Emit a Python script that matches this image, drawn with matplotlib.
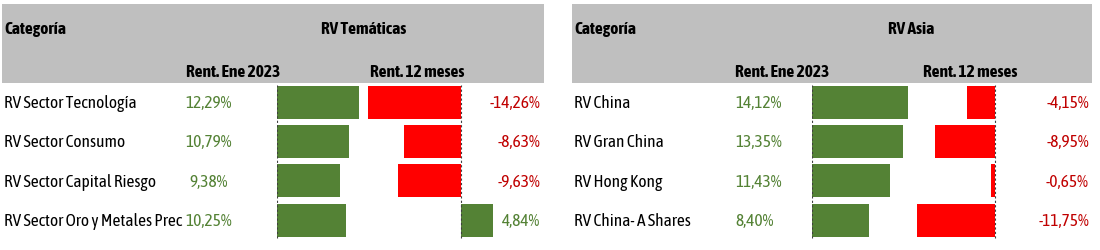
import matplotlib
matplotlib.use("Agg")
import matplotlib.pyplot as plt
from matplotlib.patches import Rectangle

# ---------------- data ----------------
left_title = "RV Temáticas"
left_categories = ["RV Sector Tecnología", "RV Sector Consumo",
                   "RV Sector Capital Riesgo", "RV Sector Oro y Metales Prec"]
left_ene2023 = [12.29, 10.79, 9.38, 10.25]
left_12m = [-14.26, -8.63, -9.63, 4.84]

right_title = "RV Asia"
right_categories = ["RV China", "RV Gran China", "RV Hong Kong", "RV China- A Shares"]
right_ene2023 = [14.12, 13.35, 11.43, 8.40]
right_12m = [-4.15, -8.95, -0.65, -11.75]

col_cat = "Categoría"
col_ene = "Rent. Ene 2023"
col_12m = "Rent. 12 meses"

# ---------------- style ----------------
GREEN = "#548235"
RED_BAR = "#FF0000"
RED_TXT = "#C00000"
GRAY = "#BFBFBF"
FONT = ["Asap Condensed", "Archivo Narrow", "DejaVu Sans"]
FS = 12.5

W, H = 1100, 250
fig = plt.figure(figsize=(W / 100, H / 100), dpi=100)

# background axes in pixel coordinates for layout / text
bg = fig.add_axes([0, 0, 1, 1])
bg.set_xlim(0, W)
bg.set_ylim(H, 0)
bg.axis("off")


def px_axes(x0, y0, x1, y1):
    return fig.add_axes([x0 / W, 1 - y1 / H, (x1 - x0) / W, (y1 - y0) / H])


def fmt(v):
    return f"{v:.2f}%".replace(".", ",")


ROW_TOP = 82.5
PITCH = 39.3


def panel(px0, px1, title, title_x, cats, ene, m12, ene_x, ene_ha,
          hdr_ene_x, hdr_12_x, gaxis, gscale, raxis, rscale, r_left, r_right,
          val_right):
    # header
    bg.add_patch(Rectangle((px0, 4), px1 - px0, 79, facecolor=GRAY,
                           edgecolor="none", zorder=0))
    bg.text(px0 + 2, 29, col_cat, family=FONT, fontsize=FS, fontweight="bold",
            va="center", ha="left")
    bg.text(title_x, 29, title, family=FONT, fontsize=FS, fontweight="bold",
            va="center", ha="center")
    bg.text(hdr_ene_x, 72, col_ene, family=FONT, fontsize=FS, fontweight="bold",
            va="center", ha="center")
    bg.text(hdr_12_x, 72, col_12m, family=FONT, fontsize=FS, fontweight="bold",
            va="center", ha="center")

    n = len(cats)
    bottom = ROW_TOP + n * PITCH
    for i, (c, e, m) in enumerate(zip(cats, ene, m12)):
        yc = ROW_TOP + (i + 0.5) * PITCH + 1.5
        bg.text(px0 + 2, yc, c, family=FONT, fontsize=FS, va="center", ha="left")
        bg.text(ene_x, yc, fmt(e), family=FONT, fontsize=FS, va="center",
                ha=ene_ha, color=GREEN)
        bg.text(val_right, yc, fmt(m), family=FONT, fontsize=FS, va="center",
                ha="right", color=GREEN if m >= 0 else RED_TXT)

    ypos = list(range(n))
    # green data bars (Rent. Ene 2023)
    gw = 110
    axg = px_axes(gaxis, ROW_TOP, gaxis + gw, bottom)
    axg.barh(ypos, ene, height=0.84, color=GREEN, left=0)
    axg.set_xlim(0, gw / gscale)
    axg.set_ylim(n - 0.5, -0.5)
    axg.axvline(0, ymin=0.01, ymax=0.985, color="#404040", lw=0.8,
                linestyle=(0, (2, 2)))
    axg.axis("off")
    axg.patch.set_alpha(0)

    # 12-month data bars
    axr = px_axes(raxis - r_left, ROW_TOP, raxis + r_right, bottom)
    axr.barh(ypos, m12, height=0.84,
             color=[GREEN if v >= 0 else RED_BAR for v in m12])
    axr.set_xlim(-r_left / rscale, r_right / rscale)
    axr.set_ylim(n - 0.5, -0.5)
    axr.axvline(0, ymin=0.01, ymax=0.985, color="#404040", lw=0.8,
                linestyle=(0, (2, 2)))
    axr.axis("off")
    axr.patch.set_alpha(0)


panel(2, 544, left_title, 364, left_categories, left_ene2023, left_12m,
      209, "center", 233, 417, 277, 6.7, 461, 6.55, 110, 40, 540)
panel(572, 1092, right_title, 911, right_categories, right_ene2023, right_12m,
      735, "left", 782, 970, 812, 6.8, 995, 6.65, 90, 10, 1089)

fig.savefig("out.png", dpi=100)
